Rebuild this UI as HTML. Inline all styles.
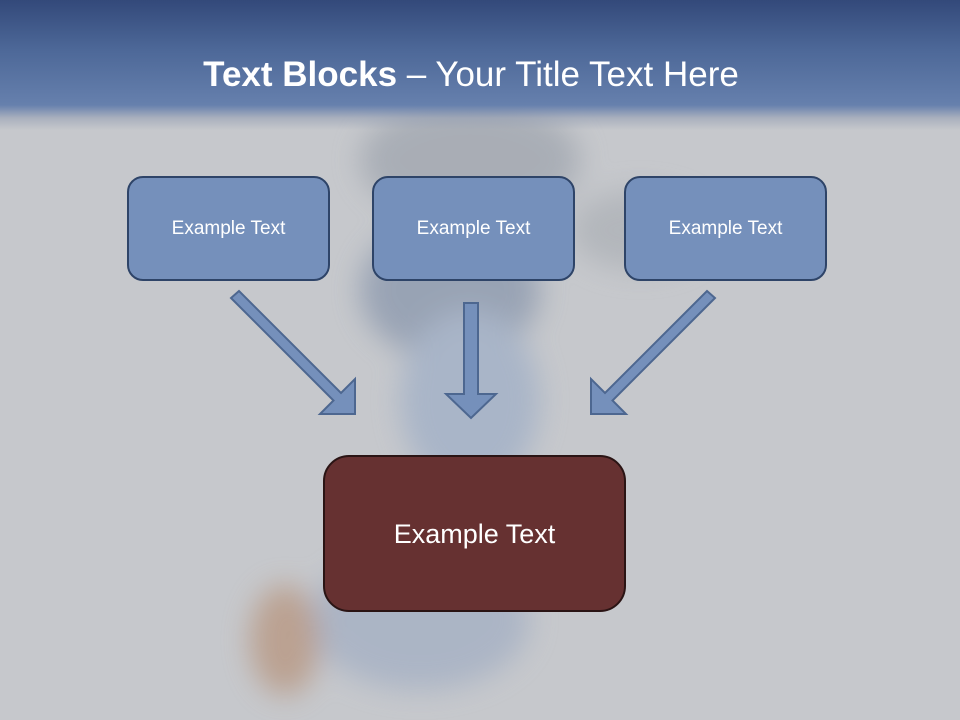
<!DOCTYPE html>
<html><head><meta charset="utf-8"><style>
html,body{margin:0;padding:0}
body{width:960px;height:720px;position:relative;overflow:hidden;background:#c6c8cc;font-family:"Liberation Sans",sans-serif}
.bg{position:absolute;inset:0}
.hdr{position:absolute;left:0;top:0;width:960px;height:130px;background:linear-gradient(to bottom,#33497a 0px,#4d6898 50px,#6680ad 105px,rgba(150,160,180,0.6) 118px,rgba(198,200,204,0) 130px)}
.title{position:absolute;left:0;width:942px;top:55px;text-align:center;color:#fff;font-size:35px}
.box{position:absolute;box-sizing:border-box;background:#7590bb;border:2px solid #2e4468;border-radius:16px;color:#fff;font-size:19px;text-align:center;line-height:102px}
.big{position:absolute;box-sizing:border-box;left:323px;top:455px;width:303px;height:157px;background:#663131;border:2px solid #2a1414;border-radius:26px;color:#fff;font-size:27px;text-align:center;line-height:155px}
</style></head><body>
<svg class="bg" width="960" height="720">
<defs><filter id="b"><feGaussianBlur stdDeviation="14"/></filter></defs>
<g filter="url(#b)" opacity="0.65">
<ellipse cx="470" cy="160" rx="110" ry="60" fill="#9aa0aa"/>
<ellipse cx="450" cy="290" rx="90" ry="70" fill="#8190a8"/>
<ellipse cx="470" cy="400" rx="70" ry="90" fill="#9aabc6"/>
<ellipse cx="420" cy="620" rx="110" ry="70" fill="#9eabc2"/>
<ellipse cx="285" cy="640" rx="35" ry="55" fill="#b58d72"/>
<ellipse cx="640" cy="230" rx="70" ry="40" fill="#a9adb3"/>
</g>
<polygon points="231,298 333.5,400.5 320,414 355,414 355,379 341,393 239,291" fill="#7590bb" stroke="#4d6790" stroke-width="2"/>
<polygon points="715,298 612.5,400.5 626,414 591,414 591,379 605,393 707,291" fill="#7590bb" stroke="#4d6790" stroke-width="2"/>
<polygon points="464,303 478,303 478,394 496,394 471,418 446,394 464,394" fill="#7590bb" stroke="#4d6790" stroke-width="2"/>
</svg>
<div class="hdr"></div>
<div class="title"><b>Text Blocks</b> – Your Title Text Here</div>
<div class="box" style="left:127px;top:176px;width:203px;height:105px">Example Text</div>
<div class="box" style="left:372px;top:176px;width:203px;height:105px">Example Text</div>
<div class="box" style="left:624px;top:176px;width:203px;height:105px">Example Text</div>
<div class="big">Example Text</div>
</body></html>
